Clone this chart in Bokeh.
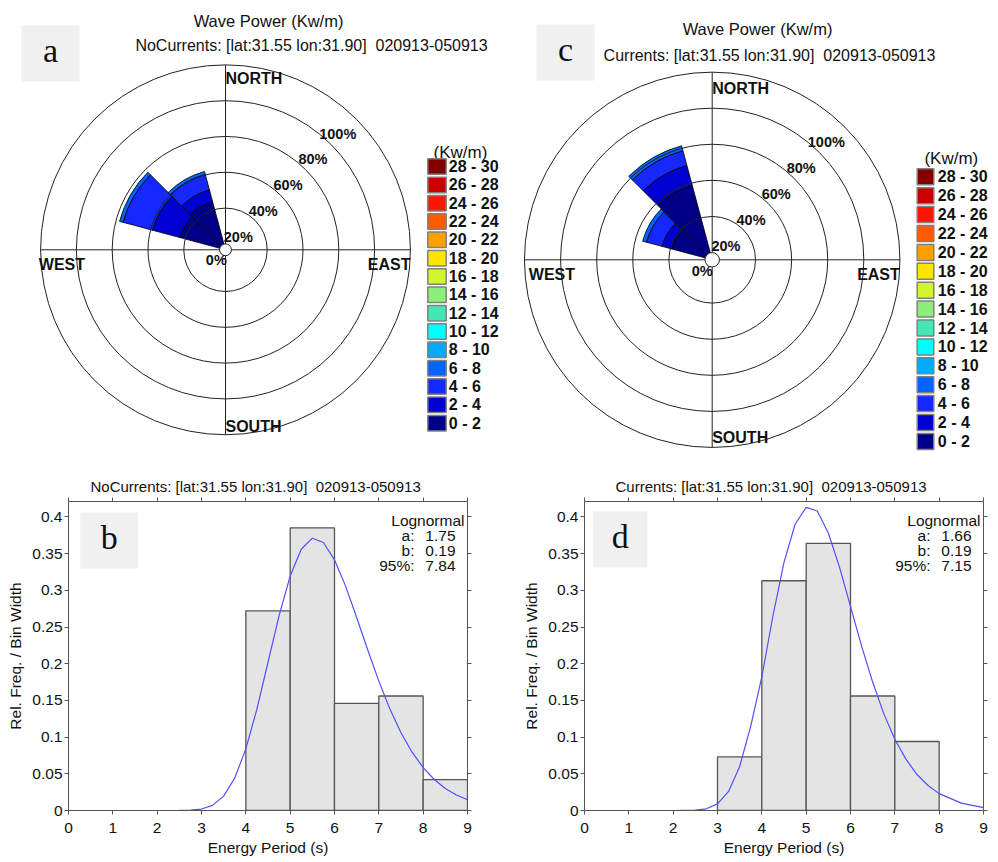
import math
from bokeh.plotting import figure
from bokeh.layouts import column, row
from bokeh.models import Range1d, LinearAxis, FixedTicker
from bokeh.embed import file_html
from bokeh.resources import INLINE
from bokeh.core.properties import value

# ------------------------------------------------------------------ data
power_bins = ["0 - 2", "2 - 4", "4 - 6", "6 - 8", "8 - 10", "10 - 12", "12 - 14",
              "14 - 16", "16 - 18", "18 - 20", "20 - 22", "22 - 24", "24 - 26",
              "26 - 28", "28 - 30"]
power_colors = ["#000087", "#0000d2", "#1428ff", "#0064ff", "#00aaff", "#00ffff",
                "#46e6b4", "#8cf078", "#d2f52d", "#ffe600", "#ffa000", "#ff5a00",
                "#ff1400", "#c80000", "#800000"]
sector_bearings = [300, 330]          # sector centre, degrees from north
sector_width = 30
# frequency (%) per power bin (0-2, 2-4, 4-6, 6-8) for each sector
nocurr_freq = {300: [23.0, 16.0, 17.0, 2.0], 330: [24.7, 6.7, 8.9, 1.7]}
curr_freq = {300: [19.3, 5.5, 8.9, 2.2], 330: [38.7, 11.4, 8.5, 2.8]}
ring_values = [20, 40, 60, 80, 100]
ring_labels = ["20%", "40%", "60%", "80%", "100%"]

period_bin_left = [0, 1, 2, 3, 4, 5, 6, 7, 8]
nocurr_relfreq = [0, 0, 0, 0, 0.272, 0.385, 0.146, 0.156, 0.042]
curr_relfreq = [0, 0, 0, 0.073, 0.313, 0.364, 0.156, 0.094, 0]
nocurr_fit_x = [1.15, 1.5, 2.0, 2.5, 2.75, 3.0, 3.25, 3.5, 3.75, 4.0, 4.25, 4.5, 4.75,
                5.0, 5.25, 5.5, 5.75, 6.0, 6.25, 6.5, 6.75, 7.0, 7.25, 7.5, 7.75,
                8.0, 8.25, 8.5, 8.75, 9.0]
nocurr_fit_y = [0, 0, 0, 0.0001, 0.0004, 0.002, 0.007, 0.0196, 0.0442, 0.084, 0.138,
                0.202, 0.2655, 0.3194, 0.3559, 0.371, 0.3652, 0.3415, 0.3057, 0.263,
                0.2186, 0.1763, 0.1383, 0.1059, 0.0794, 0.0584, 0.0422, 0.030, 0.0211,
                0.0146]
curr_fit_x = [1.0, 1.5, 2.0, 2.5, 2.75, 3.0, 3.25, 3.5, 3.75, 4.0, 4.25, 4.5, 4.75,
              5.0, 5.25, 5.5, 5.75, 6.0, 6.25, 6.5, 6.75, 7.0, 7.25, 7.5, 7.75, 8.0,
              8.5, 9.0]
curr_fit_y = [0, 0, 0, 0.0004, 0.0023, 0.009, 0.026, 0.060, 0.115, 0.182, 0.265, 0.338,
              0.390, 0.413, 0.408, 0.378, 0.332, 0.278, 0.224, 0.175, 0.132, 0.097,
              0.070, 0.049, 0.034, 0.023, 0.010, 0.004]
nocurr_stats = ["1.75", "0.19", "7.84"]
curr_stats = ["1.66", "0.19", "7.15"]
stat_names = ["a:", "b:", "95%:"]
x_ticks = [0, 1, 2, 3, 4, 5, 6, 7, 8, 9]
y_ticks = [0, 0.05, 0.1, 0.15, 0.2, 0.25, 0.3, 0.35, 0.4]
y_tick_labels = ["0", "0.05", "0.1", "0.15", "0.2", "0.25", "0.3", "0.35", "0.4"]

FONT = "Liberation Sans"
SERIF = "Liberation Serif"


# ------------------------------------------------------------------ polar panels
def make_polar(W, H, ox, cx, cy, S, R0, title1, title2, t1, t2, letter, lbox,
               freq, compass, leg):
    # cx, cy, all pixel positions are page-absolute; ox is panel left edge
    lcx = cx - ox
    p = figure(width=W, height=H,
               x_range=Range1d(-lcx / S, (W - lcx) / S),
               y_range=Range1d(-(H - cy) / S, cy / S),
               x_axis_type=None, y_axis_type=None, min_border=0,
               toolbar_location=None, output_backend="svg")
    p.outline_line_color = None
    p.background_fill_color = "white"
    p.border_fill_color = "white"

    def D(px, py):
        return ((px - cx) / S, (cy - py) / S)

    # letter box
    bx0, by0 = D(lbox[0], lbox[1])
    bx1, by1 = D(lbox[2], lbox[3])
    p.quad(left=[bx0], right=[bx1], top=[by0], bottom=[by1],
           fill_color="#f0f0f0", line_color=None)
    lx, ly = D((lbox[0] + lbox[2]) / 2, (lbox[1] + lbox[3]) / 2 - 3)
    p.text(x=[lx], y=[ly], text=[letter], text_font=value(SERIF),
           text_font_size="34px", text_align="center", text_baseline="middle",
           text_color="#111111")

    # titles
    x1_, y1_ = D(*t1)
    x2_, y2_ = D(*t2)
    p.text(x=[x1_], y=[y1_], text=[title1], text_font=value(FONT),
           text_font_size="16.5px", text_align="center", text_baseline="middle",
           text_color="#111111")
    p.text(x=[x2_], y=[y2_], text=[title2], text_font=value(FONT),
           text_font_size="16px", text_align="center", text_baseline="middle",
           text_color="#111111")

    # sectors
    for b in sector_bearings:
        cum = 0.0
        a_mid = 90 - b
        sa = math.radians(a_mid - sector_width / 2)
        ea = math.radians(a_mid + sector_width / 2)
        for i, f in enumerate(freq[b]):
            inner = 0 if i == 0 else R0 + cum
            cum += f
            outer = R0 + cum
            p.annular_wedge(x=0, y=0, inner_radius=inner, outer_radius=outer,
                            start_angle=sa, end_angle=ea, direction="anticlock",
                            fill_color=power_colors[i], line_color="black",
                            line_width=0.8)

    # rings and cross hair
    rr = [R0 + v for v in ring_values]
    p.circle(x=[0] * len(rr), y=[0] * len(rr), radius=rr, fill_color=None,
             line_color="#222222", line_width=1)
    Rout = R0 + ring_values[-1]
    p.segment(x0=[-Rout, 0], y0=[0, -Rout], x1=[Rout, 0], y1=[0, Rout],
              line_color="#222222", line_width=1)
    p.circle(x=[0], y=[0], radius=[R0], fill_color="white", line_color="#222222",
             line_width=1)

    # ring labels
    ang = math.radians(46)
    lxs, lys = [], []
    for v in ring_values:
        r = R0 + v - 13
        lxs.append(r * math.cos(ang))
        lys.append(r * math.sin(ang))
    zx = (R0 + 4.5) * math.cos(math.radians(229))
    zy = (R0 + 4.5) * math.sin(math.radians(229))
    p.text(x=lxs + [zx], y=lys + [zy], text=ring_labels + ["0%"],
           text_font=value(FONT), text_font_size="14.5px", text_font_style="bold",
           text_align="center", text_baseline="middle", text_color="#111111")

    # compass labels
    for (txt, px, py, al) in compass:
        x, y = D(px, py)
        p.text(x=[x], y=[y], text=[txt], text_font=value(FONT),
               text_font_size="16px", text_font_style="bold", text_align=al,
               text_baseline="middle", text_color="#111111")

    # legend
    sw_x0, sw_x1, top0, pitch, sh, lab_x, head = leg
    hx, hy = D(*head)
    p.text(x=[hx], y=[hy], text=["(Kw/m)"], text_font=value(FONT),
           text_font_size="17px", text_align="center", text_baseline="middle",
           text_color="#111111")
    n = len(power_bins)
    ql, qr, qt, qb, cols, tx, ty, tt = [], [], [], [], [], [], [], []
    for k in range(n):
        idx = n - 1 - k
        top = top0 + k * pitch
        a0, a1 = D(sw_x0, top)
        c0, c1 = D(sw_x1, top + sh)
        ql.append(a0); qr.append(c0); qt.append(a1); qb.append(c1)
        cols.append(power_colors[idx])
        t0, t1v = D(lab_x, top + sh / 2)
        tx.append(t0); ty.append(t1v); tt.append(power_bins[idx])
    p.quad(left=ql, right=qr, top=qt, bottom=qb, fill_color=cols,
           line_color="#808080", line_width=1.5)
    p.text(x=tx, y=ty, text=tt, text_font=value(FONT), text_font_size="16px",
           text_font_style="bold", text_align="left", text_baseline="middle",
           text_color="#111111")
    return p


pa = make_polar(499, 460, 0, 225.0, 249.3, 1.79, 3.3,
                "Wave Power (Kw/m)",
                "NoCurrents: [lat:31.55 lon:31.90] \u00a0020913-050913",
                (268, 20), (311, 45), "a", (21, 25, 79, 81), nocurr_freq,
                [("NORTH", 225.0, 77.5, "left"), ("SOUTH", 225.0, 425.7, "left"),
                 ("WEST", 38.3, 264, "left"), ("EAST", 410, 264, "right")],
                (427.3, 445.7, 158.3, 18.33, 15.5, 448.3, (460, 151.7)))

pc = make_polar(499, 460, 499, 711.7, 259.3, 1.805, 4.0,
                "Wave Power (Kw/m)",
                "Currents: [lat:31.55 lon:31.90] \u00a0020913-050913",
                (757, 28), (769, 55), "c", (536, 24, 594, 80), curr_freq,
                [("NORTH", 711.7, 88.3, "left"), ("SOUTH", 711.7, 436.7, "left"),
                 ("WEST", 528.3, 274, "left"), ("EAST", 899.3, 274, "right")],
                (916.7, 933.3, 168.3, 18.9, 16.0, 937.3, (950.8, 158.3)))


# ------------------------------------------------------------------ histograms
YMAX = 0.421
FW, FH = 399, 309


def style_axis(ax, labels=True):
    ax.axis_line_color = "#555555"
    ax.major_tick_line_color = "#555555"
    ax.minor_tick_line_color = None
    ax.major_tick_in = 0
    ax.major_tick_out = 4
    ax.major_label_text_font = FONT
    ax.axis_label_text_font = FONT
    ax.axis_label_text_font_size = "15.5px"
    ax.axis_label_text_font_style = "normal"
    ax.axis_label_text_color = "#111111"
    if labels:
        ax.major_label_text_font_size = "15.5px"
        ax.major_label_text_color = "#111111"
    else:
        ax.major_label_text_font_size = "1px"
        ax.major_label_text_color = None
        ax.major_label_standoff = 0


def make_hist(frame_left_abs, lb, rb, relfreq, fx, fy, title, toff, letter, lbox, stats):
    p = figure(frame_width=FW, frame_height=FH, x_range=Range1d(0, 9),
               y_range=Range1d(0, YMAX), min_border_left=lb, min_border_right=rb,
               min_border_top=41, min_border_bottom=52, toolbar_location=None,
               output_backend="svg")
    p.grid.visible = False
    p.outline_line_color = "#555555"
    ppx = FW / 9.0
    ppy = FH / YMAX

    def D(px, py):
        return ((px - frame_left_abs) / ppx, (810 - py) / ppy)

    # letter box
    x0, y0 = D(lbox[0], lbox[1])
    x1, y1 = D(lbox[2], lbox[3])
    p.quad(left=[x0], right=[x1], top=[y0], bottom=[y1], fill_color="#f0f0f0",
           line_color=None)
    tx, ty = D((lbox[0] + lbox[2]) / 2, (lbox[1] + lbox[3]) / 2 - 3)
    p.text(x=[tx], y=[ty], text=[letter], text_font=value(SERIF),
           text_font_size="34px", text_align="center", text_baseline="middle",
           text_color="#111111")

    L = [l for l, h in zip(period_bin_left, relfreq) if h > 0]
    Hh = [h for h in relfreq if h > 0]
    p.quad(left=L, right=[l + 1 for l in L], top=Hh, bottom=0,
           fill_color="#e4e4e4", line_color="#555555", line_width=1.3)
    p.line(fx, fy, line_color="#5050ff", line_width=1.2)

    # fit annotation
    _, yl = D(0, 519.5)
    ys = [D(0, v)[1] for v in (535, 550, 565)]
    p.text(x=[9], y=[yl], text=["Lognormal"], x_offset=-3, text_font=value(FONT),
           text_font_size="15.5px", text_align="right", text_baseline="middle",
           text_color="#111111")
    p.text(x=[9] * 3, y=ys, text=stat_names, x_offset=-53, text_font=value(FONT),
           text_font_size="15.5px", text_align="right", text_baseline="middle",
           text_color="#111111")
    p.text(x=[9] * 3, y=ys, text=stats, x_offset=-12, text_font=value(FONT),
           text_font_size="15.5px", text_align="right", text_baseline="middle",
           text_color="#111111")

    p.xaxis.ticker = FixedTicker(ticks=x_ticks)
    p.yaxis.ticker = FixedTicker(ticks=y_ticks)
    p.yaxis.major_label_overrides = {t: s for t, s in zip(y_ticks, y_tick_labels)}
    p.xaxis.axis_label = "Energy Period (s)"
    p.yaxis.axis_label = "Rel. Freq. / Bin Width"
    style_axis(p.xaxis[0])
    style_axis(p.yaxis[0])
    p.xaxis.major_label_standoff = 8
    p.xaxis.axis_label_standoff = 3
    p.yaxis.major_label_standoff = 2
    p.yaxis.axis_label_standoff = 5
    top_ax = LinearAxis(ticker=FixedTicker(ticks=x_ticks))
    style_axis(top_ax, labels=False)
    p.add_layout(top_ax, "above")
    right_ax = LinearAxis(ticker=FixedTicker(ticks=y_ticks))
    style_axis(right_ax, labels=False)
    p.add_layout(right_ax, "right")

    p.title.text = title
    p.title.align = "left"
    p.title.offset = toff
    p.title.text_font = FONT
    p.title.text_font_size = "15px"
    p.title.text_font_style = "normal"
    p.title.text_color = "#111111"
    p.title.standoff = 5
    return p


pb = make_hist(68.3, 68, 32, nocurr_relfreq, nocurr_fit_x, nocurr_fit_y,
               "NoCurrents: [lat:31.55 lon:31.90] \u00a0020913-050913", 22, "b",
               (80, 512, 138, 568), nocurr_stats)
pd_ = make_hist(584.3, 85, 15, curr_relfreq, curr_fit_x, curr_fit_y,
                "Currents: [lat:31.55 lon:31.90] \u00a0020913-050913", 31, "d",
                (593, 511, 647, 567), curr_stats)

layout = column(row(pa, pc), row(pb, pd_))
open("out.html", "w").write(file_html(layout, INLINE))
